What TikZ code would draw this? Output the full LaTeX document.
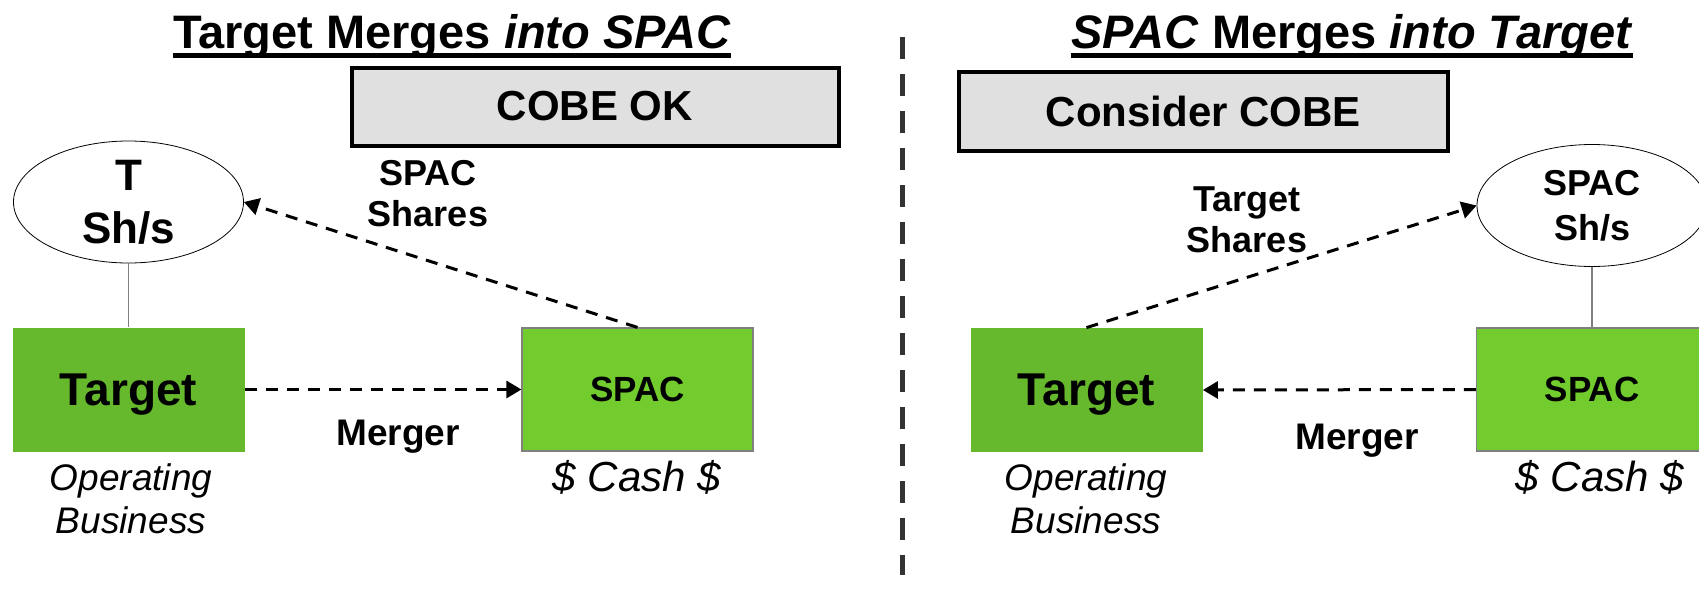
\documentclass[tikz,border=0pt]{standalone}
\usepackage{fontspec}
\setmainfont{Liberation Sans}
\usetikzlibrary{arrows.meta,shapes.geometric}
\definecolor{tgtgreen}{HTML}{66B82C}
\definecolor{spacgreen}{HTML}{72CC2E}
\definecolor{cobegray}{HTML}{E0E0E0}
\definecolor{divgray}{HTML}{333333}

\begin{document}
\begin{tikzpicture}[x=0.5pt,y=-0.5pt,
    every node/.style={inner sep=0pt,align=center},
    heading/.style={font=\fontsize{23.5}{26}\selectfont\bfseries},
    cobebox/.style={draw,line width=2pt,fill=cobegray,minimum width=243.5pt,
                    minimum height=39pt,font=\fontsize{21}{24}\selectfont\bfseries},
    shares/.style={draw,ellipse,thin,fill=white,minimum width=115pt,minimum height=61pt},
    tgtbox/.style={fill=tgtgreen,minimum width=116pt,minimum height=62pt,text depth=0pt,
                   font=\fontsize{23}{26}\selectfont\bfseries},
    spacbox/.style={fill=spacgreen,draw=gray,line width=0.6pt,minimum width=115.5pt,
                    minimum height=61.5pt,text depth=0pt,
                    font=\fontsize{17.5}{20}\selectfont\bfseries},
    lbl/.style={font=\fontsize{18}{20.5}\selectfont\bfseries},
    mlbl/.style={font=\fontsize{18.5}{21}\selectfont\bfseries,anchor=base},
    note/.style={font=\fontsize{18.5}{21.5}\selectfont\itshape},
    cash/.style={font=\fontsize{21}{24}\selectfont\itshape,anchor=base},
    flow/.style={line width=1.5pt,dash pattern=on 6pt off 4.5pt,
                 -{Triangle[length=7.5pt,width=8.5pt]}},
    link/.style={gray,line width=0.6pt},
    divider/.style={divgray,line width=2.5pt,dash pattern=on 11pt off 7.5pt}]

\useasboundingbox (0,0) rectangle (1699,590);

\node[heading,anchor=base] (titleL) at (452,48) {Target Merges \textit{into SPAC}};
\node[heading,anchor=base] (titleR) at (1352,48) {\textit{SPAC} Merges \textit{into Target}};
\draw[line width=2.2pt] ([yshift=-3.7pt]titleL.base west) -- ([yshift=-3.7pt]titleL.base east);
\draw[line width=2.2pt] ([yshift=-3.7pt]titleR.base west) -- ([yshift=-3.7pt]titleR.base east);

\node[cobebox] (cobeL) at (595,106.5) {COBE OK};
\node[cobebox,minimum width=244.5pt,minimum height=39.5pt] (cobeR) at (1203.5,111.5) {Consider COBE};

\node[shares,font=\fontsize{22}{26.5}\selectfont\bfseries] (tshL) at (128.5,202) {T\\Sh/s};
\node[tgtbox] (tgtL) at (128.5,389.5) {Target};
\node[spacbox] (spacL) at (637.5,389.5) {SPAC};
\node[lbl] (shL) at (428,194) {SPAC\\Shares};
\node[mlbl] (mergeL) at (398,445) {Merger};
\node[note] (opL) at (131,499) {Operating\\Business};
\node[cash] (cashL) at (637,491) {\$ Cash \$};

\node[shares,font=\fontsize{18}{22.5}\selectfont\bfseries] (sshR) at (1592,205.5) {SPAC\\Sh/s};
\node[tgtbox] (tgtR) at (1086.5,390) {Target};
\node[spacbox] (spacR) at (1592,389.5) {SPAC};
\node[lbl] (shR) at (1247,220) {Target\\Shares};
\node[mlbl] (mergeR) at (1357,449) {Merger};
\node[note] (opR) at (1086,499) {Operating\\Business};
\node[cash] (cashR) at (1600,491) {\$ Cash \$};

\draw[link] (tshL.south) -- (tgtL.north);
\draw[flow] (tgtL.east) -- (spacL.west);
\draw[flow] (spacL.north) -- (tshL.east);

\draw[link] (sshR.south) -- (spacR.north);
\draw[flow] (spacR.west) -- (tgtR.east);
\draw[flow] (tgtR.north) -- (sshR.west);

\coordinate (divtop) at (902,37);
\coordinate (divbot) at (902,575);
\draw[divider] (divtop) -- (divbot);

\end{tikzpicture}
\end{document}
